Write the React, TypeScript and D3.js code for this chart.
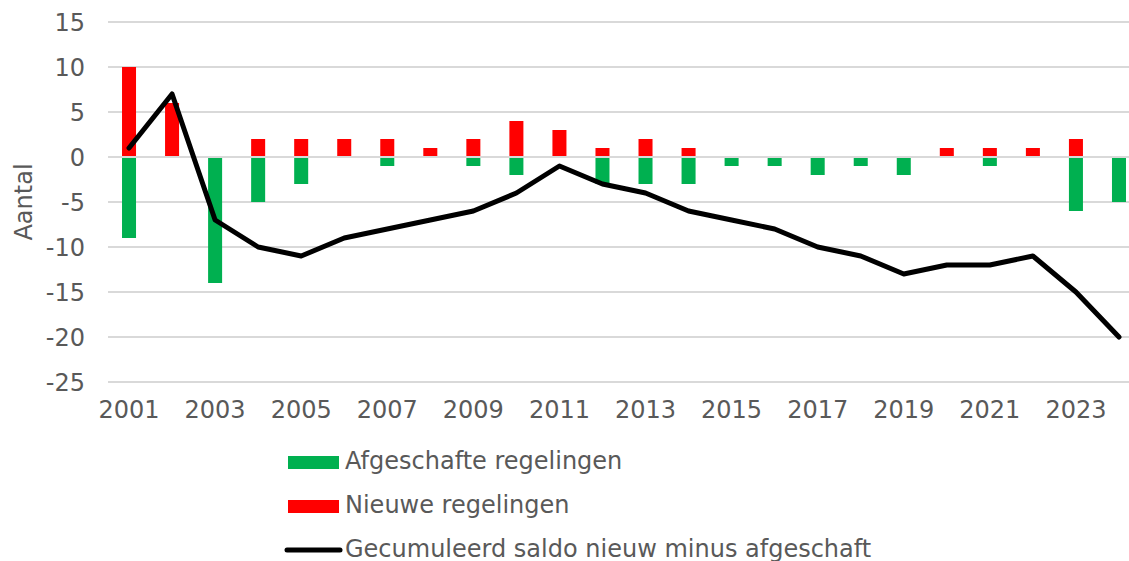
import { useEffect, useRef } from 'react';
import * as d3 from 'd3';

const years = [
  '2001', '2002', '2003', '2004', '2005', '2006', '2007', '2008', '2009', '2010', '2011', '2012',
  '2013', '2014', '2015', '2016', '2017', '2018', '2019', '2020', '2021', '2022', '2023', '2024',
];
const nieuwe = [10, 6, 0, 2, 2, 2, 2, 1, 2, 4, 3, 1, 2, 1, 0, 0, 0, 0, 0, 1, 1, 1, 2, 0];
const afgeschafte = [-9, 0, -14, -5, -3, 0, -1, 0, -1, -2, 0, -3, -3, -3, -1, -1, -2, -1, -2, 0, -1, 0, -6, -5];
const saldo = [1, 7, -7, -10, -11, -9, -8, -7, -6, -4, -1, -3, -4, -6, -7, -8, -10, -11, -13, -12, -12, -11, -15, -20];
const yTicks = [15, 10, 5, 0, -5, -10, -15, -20, -25];
const xLabels = ['2001', '2003', '2005', '2007', '2009', '2011', '2013', '2015', '2017', '2019', '2021', '2023'];

const legendItems = [
  { label: 'Afgeschafte regelingen', color: '#00B050', type: 'rect' },
  { label: 'Nieuwe regelingen', color: '#FF0000', type: 'rect' },
  { label: 'Gecumuleerd saldo nieuw minus afgeschaft', color: '#000000', type: 'line' },
];

const TEXT = '#595959';
const GRID = '#d9d9d9';
const FONT = 'DejaVu Sans, sans-serif';
const FS = '24px';

export default function App() {
  const svgRef = useRef<SVGSVGElement>(null);

  useEffect(() => {
    if (!svgRef.current) return;
    const svg = d3.select(svgRef.current);
    svg.selectAll('*').remove();

    const width = 1129;
    const height = 561;
    svg.attr('width', width).attr('height', height);

    const x = d3
      .scaleBand<string>()
      .domain(years)
      .range([107.5, 1140.5])
      .paddingInner(29 / 43)
      .paddingOuter(29 / 86);
    const y = d3.scaleLinear().domain([-25, 15]).range([382, 22]);
    const cx = (d: string) => (x(d) ?? 0) + x.bandwidth() / 2;

    // gridlines
    svg
      .append('g')
      .selectAll('line')
      .data(yTicks)
      .enter()
      .append('line')
      .attr('x1', 108)
      .attr('x2', width)
      .attr('y1', (d) => y(d))
      .attr('y2', (d) => y(d))
      .attr('stroke', GRID)
      .attr('stroke-width', 2);

    // y tick labels
    svg
      .append('g')
      .selectAll('text')
      .data(yTicks)
      .enter()
      .append('text')
      .attr('x', 85)
      .attr('y', (d) => y(d))
      .attr('dy', '0.36em')
      .attr('text-anchor', 'end')
      .attr('fill', TEXT)
      .style('font-family', FONT)
      .style('font-size', FS)
      .text((d) => d);

    // y axis title
    svg
      .append('text')
      .attr('transform', 'translate(32,202) rotate(-90)')
      .attr('text-anchor', 'middle')
      .attr('fill', TEXT)
      .style('font-family', FONT)
      .style('font-size', FS)
      .text('Aantal');

    // bars
    svg
      .append('g')
      .selectAll('rect')
      .data(years)
      .enter()
      .append('rect')
      .attr('x', (d) => x(d) ?? 0)
      .attr('width', x.bandwidth())
      .attr('y', (_, i) => y(nieuwe[i]))
      .attr('height', (_, i) => y(0) - y(nieuwe[i]))
      .attr('fill', '#FF0000');

    svg
      .append('g')
      .selectAll('rect')
      .data(years)
      .enter()
      .append('rect')
      .attr('x', (d) => x(d) ?? 0)
      .attr('width', x.bandwidth())
      .attr('y', y(0))
      .attr('height', (_, i) => y(afgeschafte[i]) - y(0))
      .attr('fill', '#00B050');

    // zero axis line on top of bars
    svg
      .append('line')
      .attr('x1', 108)
      .attr('x2', width)
      .attr('y1', y(0))
      .attr('y2', y(0))
      .attr('stroke', GRID)
      .attr('stroke-width', 2);

    // cumulative line
    const line = d3
      .line<number>()
      .x((_, i) => cx(years[i]))
      .y((d) => y(d));
    svg
      .append('path')
      .datum(saldo)
      .attr('d', line)
      .attr('fill', 'none')
      .attr('stroke', '#000')
      .attr('stroke-width', 5)
      .attr('stroke-linejoin', 'round')
      .attr('stroke-linecap', 'round');

    // x labels
    svg
      .append('g')
      .selectAll('text')
      .data(xLabels)
      .enter()
      .append('text')
      .attr('x', (d) => cx(d))
      .attr('y', 418)
      .attr('text-anchor', 'middle')
      .attr('fill', TEXT)
      .style('font-family', FONT)
      .style('font-size', FS)
      .text((d) => d);

    // legend
    const legend = svg
      .append('g')
      .selectAll('g')
      .data(legendItems)
      .enter()
      .append('g')
      .attr('transform', (_, i) => `translate(0,${462 + i * 44})`);

    legend
      .filter((d) => d.type === 'rect')
      .append('rect')
      .attr('x', 288)
      .attr('y', -6)
      .attr('width', 51)
      .attr('height', 13)
      .attr('fill', (d) => d.color);

    legend
      .filter((d) => d.type === 'line')
      .append('line')
      .attr('x1', 287)
      .attr('x2', 340)
      .attr('y1', 0)
      .attr('y2', 0)
      .attr('stroke', (d) => d.color)
      .attr('stroke-width', 5)
      .attr('stroke-linecap', 'round');

    legend
      .append('text')
      .attr('x', 345)
      .attr('y', 7)
      .attr('fill', TEXT)
      .style('font-family', FONT)
      .style('font-size', FS)
      .text((d) => d.label);
  }, []);

  return (
    <div style={{ position: 'absolute', left: 0, top: 0, background: '#fff' }}>
      <svg ref={svgRef}></svg>
    </div>
  );
}
